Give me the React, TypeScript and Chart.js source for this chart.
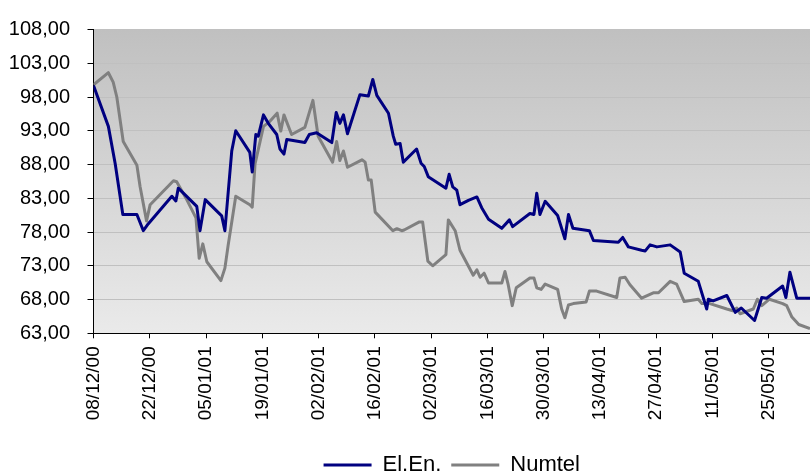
import React, { useEffect, useRef } from 'react';
import { Chart, registerables } from 'chart.js';

Chart.register(...registerables);

// ---- Data ----
// x values are days elapsed since 08/12/2000
const xTickLabels = ['08/12/00', '22/12/00', '05/01/01', '19/01/01', '02/02/01', '16/02/01', '02/03/01', '16/03/01', '30/03/01', '13/04/01', '27/04/01', '11/05/01', '25/05/01'];
const xTickStepDays = 14;
const xLastDay = 178.3;

const yMin = 63;
const yMax = 108;
const yStep = 5;

const elEnDays = [0, 3.7, 5.4, 7.3, 10.8, 12.4, 13.6, 19.5, 20.5, 21.1, 25.7, 26.5, 27.8, 31.9, 32.7, 34.4, 35.4, 38.9, 39.5, 40.4, 41.0, 42.3, 43.5, 45.6, 46.4, 47.4, 48.1, 49.3, 52.6, 53.7, 55.5, 59.3, 60.4, 61.3, 62.2, 63.2, 66.3, 68.4, 69.5, 70.5, 73.4, 74.6, 75.2, 76.3, 77.1, 80.4, 81.5, 82.3, 83.3, 87.7, 88.5, 89.4, 90.4, 91.2, 93.3, 95.4, 96.6, 98.3, 101.6, 103.5, 104.3, 108.6, 109.6, 110.3, 111.1, 112.4, 115.5, 117.3, 118.2, 119.3, 123.4, 124.4, 130.6, 131.7, 133.1, 136.4, 137.3, 138.5, 140.2, 143.5, 146.0, 147.0, 150.5, 152.6, 153.0, 154.2, 157.6, 159.7, 161.2, 164.5, 166.3, 167.5, 171.5, 172.3, 173.3, 175.0, 178.3];
const elEnValues = [99.7, 93.65, 88.1, 80.6, 80.6, 78.2, 79.2, 83.3, 82.6, 84.5, 81.8, 78.2, 82.8, 80.4, 78.2, 90.0, 93.0, 89.8, 86.9, 92.45, 92.2, 95.35, 94.1, 92.45, 90.3, 89.55, 91.7, 91.6, 91.25, 92.45, 92.7, 91.25, 95.7, 94.1, 95.35, 92.55, 98.35, 98.15, 100.6, 98.25, 95.6, 92.2, 91.0, 91.1, 88.35, 90.3, 88.2, 87.7, 86.2, 84.5, 86.55, 84.7, 84.2, 82.05, 82.7, 83.2, 81.6, 79.9, 78.55, 79.8, 78.8, 80.75, 80.6, 83.75, 80.6, 82.55, 80.45, 77.0, 80.6, 78.55, 78.2, 76.75, 76.5, 77.2, 75.8, 75.3, 75.2, 76.1, 75.8, 76.1, 75.05, 71.9, 70.7, 66.6, 68.05, 67.8, 68.6, 66.1, 66.75, 64.9, 68.3, 68.2, 70.0, 68.3, 72.05, 68.2, 68.2];

const numtelDays = [0, 3.7, 4.9, 5.8, 7.4, 10.8, 11.6, 13.2, 14.1, 19.9, 20.7, 23.2, 25.5, 26.3, 27.2, 28.2, 31.7, 32.7, 33.5, 35.4, 38.9, 39.5, 40.2, 42.3, 43.9, 45.7, 46.6, 47.4, 49.3, 52.6, 54.6, 55.9, 59.5, 60.5, 61.3, 62.2, 63.2, 66.8, 67.6, 68.4, 69.1, 70.1, 74.5, 75.5, 76.7, 77.3, 81.1, 81.9, 83.2, 84.4, 87.7, 88.3, 90.0, 91.2, 94.5, 95.4, 96.2, 97.2, 98.3, 101.6, 102.4, 103.2, 104.2, 105.2, 108.6, 109.6, 110.3, 111.4, 112.4, 115.5, 116.5, 117.3, 118.2, 119.4, 122.6, 123.4, 125.2, 130.2, 131.0, 132.3, 133.5, 136.4, 139.3, 140.6, 143.5, 145.1, 147.0, 150.5, 151.4, 153.4, 157.6, 159.1, 160.1, 160.9, 164.2, 165.2, 166.3, 168.2, 171.5, 172.5, 173.8, 175.5, 178.3];
const numtelValues = [99.8, 101.6, 100.2, 98.0, 91.4, 87.9, 84.7, 79.65, 82.05, 85.6, 85.45, 82.8, 80.1, 74.1, 76.25, 73.6, 70.8, 72.65, 76.0, 83.3, 82.05, 81.7, 88.1, 93.65, 94.4, 95.6, 92.95, 95.35, 92.45, 93.5, 97.5, 92.2, 88.35, 91.4, 88.6, 90.0, 87.6, 88.7, 88.35, 85.7, 85.7, 80.95, 78.2, 78.5, 78.2, 78.3, 79.5, 79.5, 73.7, 73.0, 74.65, 79.8, 78.2, 75.3, 71.6, 72.4, 71.3, 71.9, 70.45, 70.45, 72.15, 70.2, 67.1, 69.75, 71.2, 71.2, 69.75, 69.5, 70.3, 69.5, 66.6, 65.3, 67.2, 67.4, 67.65, 69.25, 69.25, 68.3, 71.2, 71.3, 70.2, 68.2, 69.0, 69.0, 70.7, 70.3, 67.7, 68.05, 67.4, 67.4, 66.6, 66.35, 66.75, 65.9, 66.6, 68.05, 67.1, 68.05, 67.4, 67.1, 65.4, 64.3, 63.7];

const seriesNames = ['El.En.', 'Numtel'];
const seriesColors = ['#000080', '#808080'];

const FONT = "'Liberation Sans', Arial, Helvetica, sans-serif";

const plotBackground = {
  id: 'plotBackground',
  beforeDraw(chart: any) {
    const { ctx, chartArea: a } = chart;
    if (!a) return;
    const g = ctx.createLinearGradient(0, a.top, 0, a.bottom);
    g.addColorStop(0, '#c0c0c0');
    g.addColorStop(1, '#eaeaea');
    ctx.save();
    ctx.fillStyle = g;
    ctx.fillRect(a.left, a.top, a.right - a.left, a.bottom - a.top);
    ctx.restore();
  },
};

export default function App() {
  const canvasRef = useRef<HTMLCanvasElement | null>(null);

  useEffect(() => {
    if (!canvasRef.current) return;
    Chart.defaults.font.family = FONT;
    const toPoints = (xs: number[], ys: number[]) => xs.map((x, i) => ({ x, y: ys[i] }));
    const chart = new Chart(canvasRef.current, {
      type: 'line',
      data: {
        datasets: [
          {
            label: seriesNames[0],
            data: toPoints(elEnDays, elEnValues),
            borderColor: seriesColors[0],
            backgroundColor: seriesColors[0],
            borderWidth: 3,
            pointRadius: 0,
            tension: 0,
            borderJoinStyle: 'round',
            order: 1,
          },
          {
            label: seriesNames[1],
            data: toPoints(numtelDays, numtelValues),
            borderColor: seriesColors[1],
            backgroundColor: seriesColors[1],
            borderWidth: 3,
            pointRadius: 0,
            tension: 0,
            borderJoinStyle: 'round',
            order: 2,
          },
        ],
      },
      options: {
        animation: false,
        responsive: false,
        events: [],
        layout: { padding: { top: 22.7, left: 0, right: 0, bottom: 0 } },
        plugins: {
          legend: {
            position: 'bottom',
            fullSize: false,
            labels: {
              usePointStyle: true,
              pointStyle: 'line',
              pointStyleWidth: 48,
              padding: 10,
              color: '#000',
              font: { size: 22, family: FONT },
            },
          },
          tooltip: { enabled: false },
        },
        scales: {
          x: {
            type: 'linear',
            min: 0,
            max: xLastDay,
            afterBuildTicks: (scale: any) => {
              scale.ticks = xTickLabels.map((_, i) => ({ value: i * xTickStepDays }));
            },
            afterFit: (scale: any) => {
              scale.height = 110.7;
            },
            ticks: {
              autoSkip: false,
              minRotation: 90,
              maxRotation: 90,
              padding: 8,
              color: '#000',
              font: { size: 19, family: FONT },
              callback: (v: any) => xTickLabels[Math.round(Number(v) / xTickStepDays)] ?? '',
            },
            grid: { drawOnChartArea: false, drawTicks: true, tickLength: 5, tickColor: '#000' },
            border: { display: true, color: '#000', width: 1 },
          },
          y: {
            min: yMin,
            max: yMax,
            afterFit: (scale: any) => {
              scale.width = 93.5;
            },
            ticks: {
              stepSize: yStep,
              padding: 17.5,
              color: '#000',
              font: { size: 20, family: FONT },
              callback: (v: any) => Number(v).toFixed(2).replace('.', ','),
            },
            grid: { color: '#c0c0c0', lineWidth: 1, tickColor: '#000', tickLength: 6 },
            border: { display: true, color: '#000', width: 1 },
          },
        },
      },
      plugins: [plotBackground],
    } as any);
    return () => chart.destroy();
  }, []);

  return (
    <div style={{ position: 'fixed', left: 0, top: 0, width: 810, height: 486, background: '#fff' }}>
      <canvas ref={canvasRef} width={810} height={486} style={{ display: 'block' }} />
    </div>
  );
}
